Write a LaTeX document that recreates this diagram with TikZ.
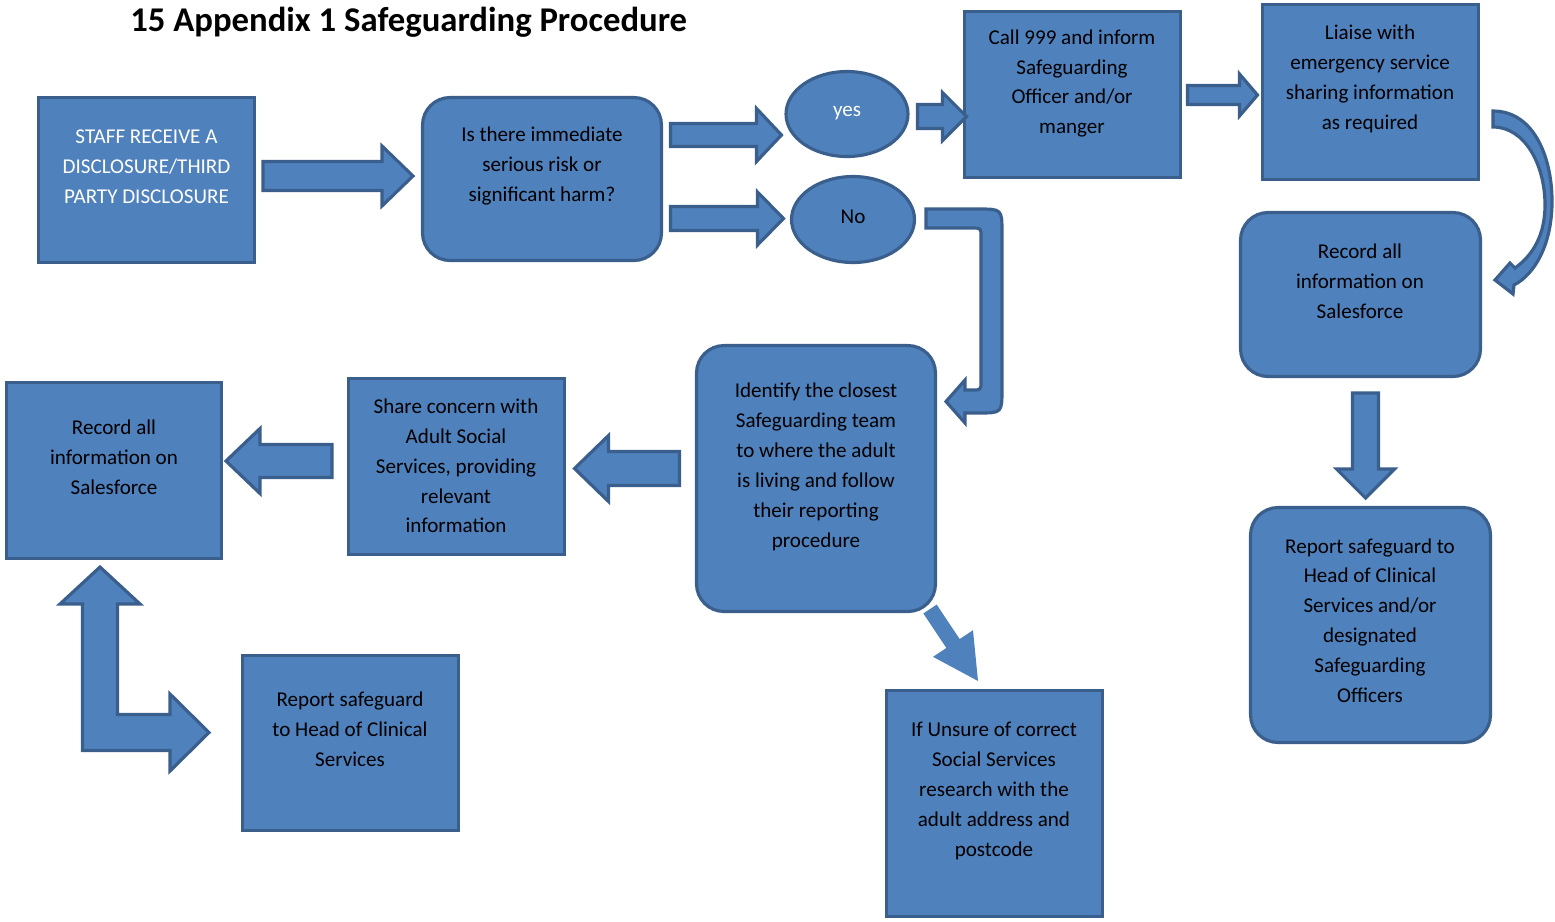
\documentclass[tikz,border=0pt]{standalone}
\usepackage{fontspec}
\setmainfont{Carlito}
\usetikzlibrary{shapes.geometric}
\definecolor{boxblue}{HTML}{4F81BD}
\definecolor{edgeblue}{HTML}{3A5F8C}
\tikzset{
  box/.style={draw=edgeblue,fill=boxblue,line width=1.8pt,inner sep=0},
  rbox/.style={box,rounded corners=0.55cm},
  oval/.style={box,ellipse},
  txt/.style={align=center,inner sep=0,font=\fontsize{12}{17}\selectfont},
  barrow/.style={draw=edgeblue,fill=boxblue,line width=1.8pt},
}
% #1 style and placement, #2 length, #3 half shaft, #4 half head, #5 head length
\newcommand{\blockarrow}[5]{\path[#1] (0,-#3) -- ({#2-#5},-#3) -- ({#2-#5},-#4) -- (#2,0) -- ({#2-#5},#4) -- ({#2-#5},#3) -- (0,#3) -- cycle;}
\begin{document}
\begin{tikzpicture}[x=0.02cm,y=-0.02cm]
\useasboundingbox (0,0) rectangle (1555,921);
\node[anchor=base west,inner sep=0,font=\bfseries\fontsize{19.75}{23}\selectfont] (title) at (130,31) {15 Appendix 1 Safeguarding Procedure};
% boxes
\node[box,minimum width=4.32cm,minimum height=3.30cm] (staff) at (146.5,180) {};
\node[rbox,minimum width=4.78cm,minimum height=3.26cm] (risk) at (542,179) {};
\node[oval,minimum width=2.44cm,minimum height=1.70cm] (yes) at (847,114) {};
\node[oval,minimum width=2.46cm,minimum height=1.72cm] (no) at (853,219.5) {};
\node[box,minimum width=4.32cm,minimum height=3.32cm] (call) at (1072.5,94.5) {};
\node[box,minimum width=4.32cm,minimum height=3.50cm] (liaise) at (1370.5,92) {};
\node[rbox,minimum width=4.80cm,minimum height=3.28cm] (recordR) at (1360.5,294.5) {};
\node[rbox,minimum width=4.80cm,minimum height=4.70cm] (reportR) at (1370.5,625) {};
\node[rbox,minimum width=4.78cm,minimum height=5.32cm] (identify) at (816,478.5) {};
\node[box,minimum width=4.32cm,minimum height=3.52cm] (share) at (456.5,466.5) {};
\node[box,minimum width=4.30cm,minimum height=3.52cm] (recordL) at (114,470.5) {};
\node[box,minimum width=4.32cm,minimum height=3.50cm] (reportL) at (350.5,743) {};
\node[box,minimum width=4.32cm,minimum height=4.52cm] (unsure) at (994.5,803.5) {};
% texts
\node[txt,text=white] (staff-t) at (146.5,167) {STAFF RECEIVE A\\DISCLOSURE/THIRD\\PARTY DISCLOSURE};
\node[txt] (risk-t) at (542,166) {Is there immediate\\serious risk or\\significant harm?};
\node[txt,text=white] (yes-t) at (847,113.5) {yes};
\node[txt] (no-t) at (853,217) {No};
\node[txt] (call-t) at (1072,83.5) {Call 999 and inform\\Safeguarding\\Officer and/or\\manger};
\node[txt] (liaise-t) at (1370,79) {Liaise with\\emergency service\\sharing information\\as required};
\node[txt] (recordR-t) at (1360,281.5) {Record all\\information on\\Salesforce};
\node[txt] (reportR-t) at (1370,620.5) {Report safeguard to\\Head of Clinical\\Services and/or\\designated\\Safeguarding\\Officers};
\node[txt] (identify-t) at (816,467) {Identify the closest\\Safeguarding team\\to where the adult\\is living and follow\\their reporting\\procedure};
\node[txt] (share-t) at (456,466) {Share concern with\\Adult Social\\Services, providing\\relevant\\information};
\node[txt] (recordL-t) at (114,457) {Record all\\information on\\Salesforce};
\node[txt] (reportL-t) at (350,729) {Report safeguard\\to Head of Clinical\\Services};
\node[txt] (unsure-t) at (994,791) {If Unsure of correct\\Social Services\\research with the\\adult address and\\postcode};
% straight block arrows
\blockarrow{barrow,shift={(263,176)}}{150}{14.5}{30}{31}
\blockarrow{barrow,shift={(670.5,135)}}{111}{11.5}{26.5}{25}
\blockarrow{barrow,shift={(670.5,218.5)}}{113}{12}{26.5}{26}
\blockarrow{barrow,shift={(917.5,116.5)}}{49}{12}{24}{24}
\blockarrow{barrow,shift={(1187.5,95)}}{70}{9.5}{21}{18}
\blockarrow{barrow,shift={(679.5,468.5)},rotate=180}{105}{17}{33}{34}
\blockarrow{barrow,shift={(332,461)},rotate=180}{106}{16.5}{32.5}{34}
\blockarrow{barrow,shift={(1365.5,393)},rotate=-90}{105}{13}{29}{29}
\blockarrow{fill=boxblue,shift={(930,609)},rotate=-56.3}{86.5}{8}{24}{45}
% curved arrow
\draw[barrow] (1493,111) .. controls (1535,111) and (1553,160) .. (1552,205) .. controls (1551,245) and (1535,274) .. (1514,285) -- (1513,294) -- (1495,280) -- (1510,263) -- (1515,268) .. controls (1533,255) and (1545,235) .. (1545,205) .. controls (1545,165) and (1525,127) .. (1493,127) -- cycle;
% u-turn arrow
\draw[barrow] (926,209) -- (978,209) .. controls (1002,209) .. (1002,233) -- (1002,389) .. controls (1002,413) .. (978,413) -- (965,413) -- (965,423) -- (946,401.5) -- (965,380) -- (965,390) -- (972,390) .. controls (981,390) .. (981,381) -- (981,237) .. controls (981,228) .. (972,228) -- (926,228) -- cycle;
% two-headed bent arrow
\draw[barrow] (100,567) -- (140,604) -- (117.5,604) -- (117.5,714.5) -- (170,714.5) -- (170,694) -- (209,732.5) -- (170,771) -- (170,750.5) -- (82.5,750.5) -- (82.5,604) -- (60,604) -- cycle;
\end{tikzpicture}
\end{document}
